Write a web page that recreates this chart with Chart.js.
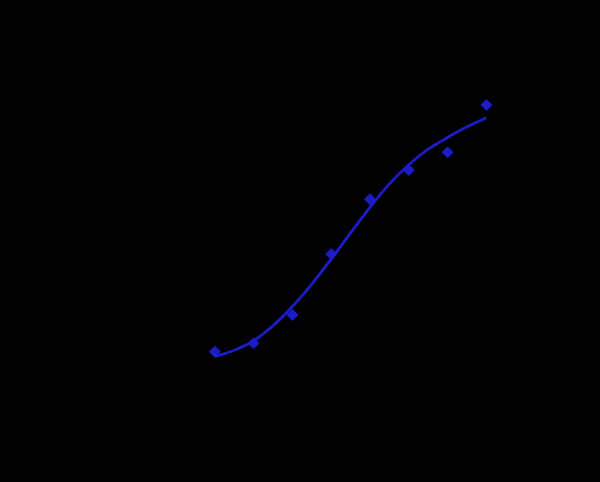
<!DOCTYPE html>
<html>
<head>
<meta charset="utf-8">
<script src="https://cdn.jsdelivr.net/npm/chart.js@4"></script>
<style>
  html, body { margin: 0; padding: 0; background: #000; }
  #chart { display: block; }
</style>
</head>
<body>
<canvas id="chart" width="600" height="482"></canvas>
<script>
// standard points (x = dilution step, y = signal)
const pointX = [1, 2, 3, 4, 5, 6, 7, 8];
const pointY = [0.453, 0.532, 0.797, 1.369, 1.882, 2.156, 2.322, 2.766];

// fitted curve
const curveX = [1, 1.5, 2, 2.5, 3, 3.5, 4, 4.5, 5, 5.5, 6, 6.5, 7, 7.5, 8];
const curveY = [0.406, 0.466, 0.556, 0.696, 0.876, 1.086, 1.321, 1.566, 1.806, 2.026, 2.206, 2.351, 2.461, 2.561, 2.646];

const blue = '#1c1cc8';

const bgPlugin = {
  id: 'bg',
  beforeDraw(chart) {
    const ctx = chart.ctx;
    ctx.save();
    ctx.fillStyle = '#000';
    ctx.fillRect(0, 0, chart.width, chart.height);
    ctx.restore();
  },
};

document.addEventListener('DOMContentLoaded', () => {
  const ctx = document.getElementById('chart').getContext('2d');

  new Chart(ctx, {
    type: 'scatter',
    data: {
      datasets: [
        {
          label: 'points',
          data: pointX.map((x, i) => ({ x, y: pointY[i] })),
          pointStyle: 'rectRot',
          pointRadius: 5.5,
          backgroundColor: blue,
          borderColor: blue,
          showLine: false,
          order: 0,
        },
        {
          label: 'fit',
          data: curveX.map((x, i) => ({ x, y: curveY[i] })),
          showLine: true,
          borderColor: blue,
          borderWidth: 2.8,
          pointRadius: 0,
          cubicInterpolationMode: 'monotone',
          fill: false,
          order: 1,
        },
      ],
    },
    options: {
      responsive: false,
      animation: false,
      layout: { padding: { left: 176, right: 36, top: 80, bottom: 82 } },
      plugins: {
        legend: { display: false },
        tooltip: { enabled: false },
      },
      scales: {
        x: { type: 'linear', min: 0, max: 10, display: false },
        y: { type: 'linear', min: 0, max: 3, display: false },
      },
    },
    plugins: [bgPlugin],
  });
});
</script>
</body>
</html>
